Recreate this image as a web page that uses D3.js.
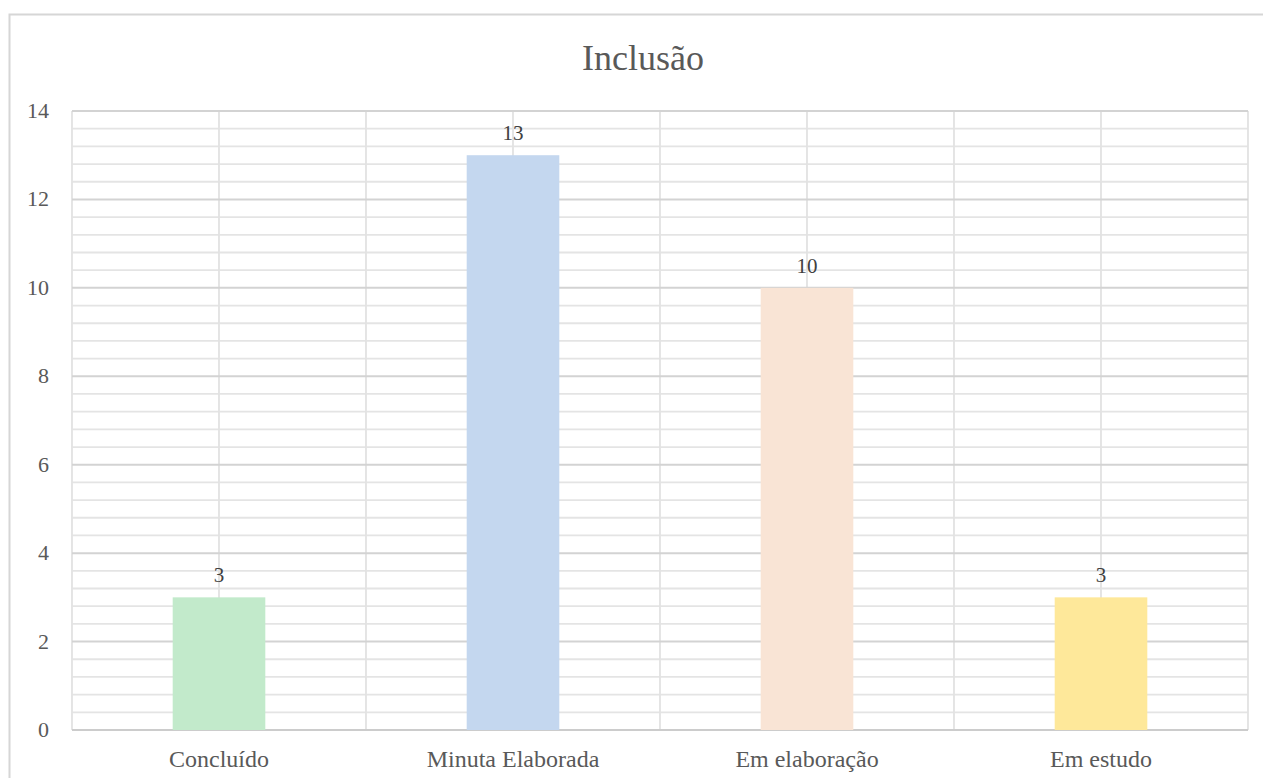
<!DOCTYPE html>
<html>
<head>
<meta charset="utf-8">
<script src="https://cdn.jsdelivr.net/npm/d3@7"></script>
<style>
  html, body { margin: 0; padding: 0; background: #fff; }
  svg { display: block; }
  text { font-family: "Liberation Serif", "Times New Roman", Tinos, "DejaVu Serif", serif; }
</style>
</head>
<body>
<svg id="chart" width="1263" height="778"></svg>
<script>
const title = "Inclusão";
const categories = ["Concluído", "Minuta Elaborada", "Em elaboração", "Em estudo"];
const values = [3, 13, 10, 3];
const barColors = ["#c2eacb", "#c4d7ef", "#f9e4d5", "#fee89a"];
const yTicks = [0, 2, 4, 6, 8, 10, 12, 14];
const yMinorStep = 0.4;

const W = 1263, H = 778;
const margin = { left: 72, right: 15, top: 111, bottom: 48 };
const svg = d3.select("#chart");
const textColor = "#595959";

// outer chart border
svg.append("rect")
  .attr("x", 9.5).attr("y", 14.5)
  .attr("width", W + 20).attr("height", H + 20)
  .attr("fill", "#fff").attr("stroke", "#d6d6d6").attr("stroke-width", 2);

const x = d3.scaleBand().domain(categories).range([margin.left, W - margin.right]).paddingInner(0).paddingOuter(0);
const y = d3.scaleLinear().domain([0, 14]).range([H - margin.bottom, margin.top]);

const g = svg.append("g");

// minor horizontal gridlines
const minor = d3.range(0, 14 + 1e-9, yMinorStep).filter(v => Math.abs(v / 2 - Math.round(v / 2)) > 1e-6);
g.selectAll("line.hminor").data(minor).enter().append("line")
  .attr("x1", x.range()[0]).attr("x2", x.range()[1])
  .attr("y1", d => y(d)).attr("y2", d => y(d))
  .attr("stroke", "#e4e4e4").attr("stroke-width", 1.8);

// vertical gridlines at category boundaries and centers
const vlines = [];
categories.forEach(c => { vlines.push(x(c)); vlines.push(x(c) + x.bandwidth() / 2); });
vlines.push(x.range()[1]);
g.selectAll("line.v").data(vlines).enter().append("line")
  .attr("x1", d => d).attr("x2", d => d)
  .attr("y1", y(14)).attr("y2", y(0))
  .attr("stroke", "#e2e2e2").attr("stroke-width", 1.8);

// major horizontal gridlines
g.selectAll("line.hmajor").data(yTicks).enter().append("line")
  .attr("x1", x.range()[0]).attr("x2", x.range()[1])
  .attr("y1", d => y(d)).attr("y2", d => y(d))
  .attr("stroke", d => d === 0 ? "#cccccc" : "#d3d3d3").attr("stroke-width", 2);

// bars
const barW = x.bandwidth() * 0.315;
g.selectAll("rect.bar").data(values).enter().append("rect")
  .attr("x", (d, i) => x(categories[i]) + x.bandwidth() / 2 - barW / 2)
  .attr("width", barW)
  .attr("y", d => y(d))
  .attr("height", d => y(0) - y(d))
  .attr("fill", (d, i) => barColors[i]);

// data labels
g.selectAll("text.lbl").data(values).enter().append("text")
  .attr("x", (d, i) => x(categories[i]) + x.bandwidth() / 2)
  .attr("y", d => y(d) - 15)
  .attr("text-anchor", "middle")
  .attr("font-size", 21).attr("fill", "#404040")
  .text(d => d);

// y tick labels
g.selectAll("text.yt").data(yTicks).enter().append("text")
  .attr("x", 49).attr("y", d => y(d) + 7)
  .attr("text-anchor", "end")
  .attr("font-size", 22).attr("fill", textColor)
  .text(d => d);

// x labels
g.selectAll("text.xt").data(categories).enter().append("text")
  .attr("x", d => x(d) + x.bandwidth() / 2).attr("y", 767)
  .attr("text-anchor", "middle")
  .attr("font-size", 24).attr("fill", textColor)
  .text(d => d);

// title
svg.append("text")
  .attr("x", 643).attr("y", 70)
  .attr("text-anchor", "middle")
  .attr("font-size", 36).attr("fill", textColor)
  .text(title);
</script>
</body>
</html>
